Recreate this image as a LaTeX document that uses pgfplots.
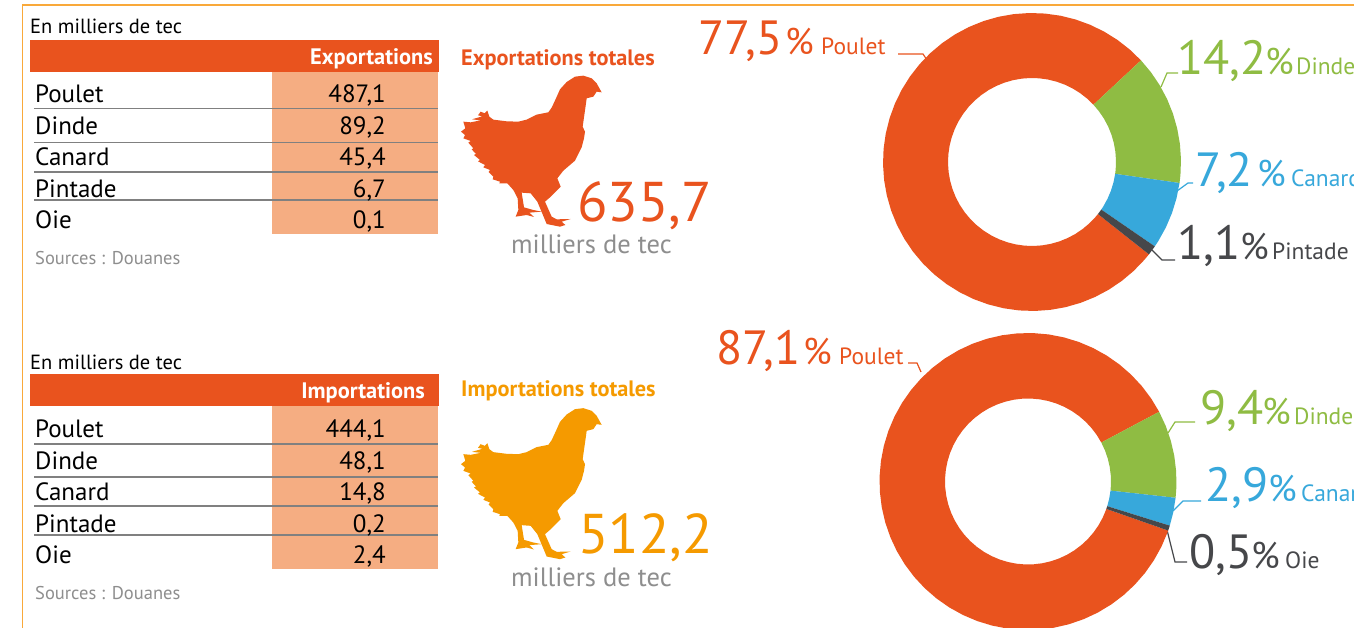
\documentclass[border=0pt]{standalone}
\usepackage{pgfplots}
\usepackage{pgfplotstable}
\usepackage{fontspec}
\setmainfont{PT Sans}
\pgfplotsset{compat=1.18}
\definecolor{cRed}{HTML}{E9531E}
\definecolor{cGreen}{HTML}{8FBC43}
\definecolor{cBlue}{HTML}{37A8DB}
\definecolor{cDark}{HTML}{46474A}
\definecolor{cSalmon}{HTML}{F5AD82}
\definecolor{cAmber}{HTML}{F59A00}
\definecolor{cFrame}{HTML}{F9A93A}
\definecolor{cGrayT}{HTML}{8E8E8E}
\definecolor{cRule}{HTML}{808080}
\pgfplotstableread{
x y
455 67
440 40
425 25
400 17
375 20
350 36
330 58
318 85
305 113
295 127
260 134
230 149
205 155
170 154
130 149
118 140
112 122
104 130
92 125
84 136
97 139
66 148
92 151
62 157
40 155
46 175
33 185
45 195
40 205
62 213
55 218
70 235
65 238
78 252
72 255
90 270
84 274
105 285
100 292
120 300
116 306
130 320
128 328
150 335
148 340
172 340
190 360
203 385
205 420
197 440
230 435
252 441
238 428
275 425
250 420
222 412
215 368
242 370
262 395
285 450
290 462
330 470
346 465
335 455
362 447
320 448
305 440
285 395
300 382
332 350
322 325
340 302
375 272
395 232
402 205
405 185
398 170
408 100
410 85
430 80
440 65
455 67
}\chicken
\newcommand{\fs}[1]{\fontsize{#1}{#1}\selectfont}
% text: anchor, x, baseline, colour, size, text
\newcommand{\Tx}[6]{\node[anchor=base #1,inner sep=0pt,text=#4,font=\fs{#5}] at (axis cs:#2,#3) {#6};}
% donut label: baseline, colour, x and text of number, x of percent sign, x and text of name
\newcommand{\Pct}[6]{\Tx{west}{#3}{#1}{#2}{48}{#4}\Tx{west}{#5}{#1}{#2}{37}{\%}\Tx{west}{#6}{#1}{#2}{23.5}}
\pgfplotsset{ring/.style={hide axis,scale only axis,width=298pt,height=298pt,xmin=-149,xmax=149,ymin=-149,ymax=149,clip=false,anchor=center},
 hen/.style={hide axis,scale only axis,width=160pt,height=160pt,xmin=0,xmax=480,ymin=0,ymax=480,y dir=reverse,anchor=north west,clip=false}}
\begin{document}
\begin{tikzpicture}
\useasboundingbox (0,0) rectangle (1354pt,628pt);
\clip (0,0) rectangle (1354pt,628pt);
\fill[white] (0,0) rectangle (1354pt,628pt);
\begin{axis}[at={(0,0)},anchor=south west,scale only axis,width=1354pt,height=628pt,xmin=0,xmax=1354,ymin=0,ymax=628,y dir=reverse,hide axis,clip=false]
% frame
\addplot[cFrame,line width=1.5pt] coordinates {(1354,5) (22.5,5) (22.5,628)};
% table 1
\addplot[fill=cRed,draw=none] coordinates {(30,40) (439,40) (439,72) (30,72)} -- cycle;
\addplot[fill=cSalmon,draw=none] coordinates {(272,72) (438,72) (438,234) (272,234)} -- cycle;
\addplot[cRule,line width=1.3pt] coordinates {(34,108.7) (438,108.7)};
\addplot[cRule,line width=1.3pt] coordinates {(34,142.7) (438,142.7)};
\addplot[cRule,line width=1.3pt] coordinates {(34,172) (438,172)};
\addplot[cRule,line width=1.3pt] coordinates {(34,200) (438,200)};
\Tx{west}{30}{33.5}{black}{20.5}{En milliers de tec}
\Tx{east}{433}{64.5}{white}{22.4}{\bfseries Exportations}
\Tx{west}{35}{102.7}{black}{25}{Poulet}
\Tx{west}{35}{134.7}{black}{25}{Dinde}
\Tx{west}{35}{165.7}{black}{25}{Canard}
\Tx{west}{35}{197.7}{black}{25}{Pintade}
\Tx{west}{35}{228.7}{black}{25}{Oie}
\Tx{east}{386}{102.7}{black}{25}{487,1}
\Tx{east}{386}{134.7}{black}{25}{89,2}
\Tx{east}{386}{165.7}{black}{25}{45,4}
\Tx{east}{386}{197.7}{black}{25}{6,7}
\Tx{east}{386}{228.7}{black}{25}{0,1}
\Tx{west}{35}{265}{cGrayT}{18.5}{Sources : Douanes}
% table 2
\addplot[fill=cRed,draw=none] coordinates {(30,374) (439,374) (439,406) (30,406)} -- cycle;
\addplot[fill=cSalmon,draw=none] coordinates {(272,406) (438,406) (438,569) (272,569)} -- cycle;
\addplot[cRule,line width=1.3pt] coordinates {(34,444) (438,444)};
\addplot[cRule,line width=1.3pt] coordinates {(34,477) (438,477)};
\addplot[cRule,line width=1.3pt] coordinates {(34,506) (438,506)};
\addplot[cRule,line width=1.3pt] coordinates {(34,535) (438,535)};
\Tx{west}{30}{369}{black}{20.5}{En milliers de tec}
\Tx{east}{425}{398}{white}{22.4}{\bfseries Importations}
\Tx{west}{35}{437.2}{black}{25}{Poulet}
\Tx{west}{35}{469.2}{black}{25}{Dinde}
\Tx{west}{35}{500.2}{black}{25}{Canard}
\Tx{west}{35}{532.2}{black}{25}{Pintade}
\Tx{west}{35}{563.2}{black}{25}{Oie}
\Tx{east}{386}{437.2}{black}{25}{444,1}
\Tx{east}{386}{469.2}{black}{25}{48,1}
\Tx{east}{386}{500.2}{black}{25}{14,8}
\Tx{east}{386}{532.2}{black}{25}{0,2}
\Tx{east}{386}{563.2}{black}{25}{2,4}
\Tx{west}{35}{599}{cGrayT}{18.5}{Sources : Douanes}
% totals
\Tx{west}{461}{65.5}{cRed}{22.3}{\bfseries Exportations totales}
\Tx{west}{577}{222}{cRed}{56}{635,7}
\Tx{west}{511}{254}{cGrayT}{26.5}{milliers de tec}
\Tx{west}{461}{396}{cAmber}{22.3}{\bfseries Importations totales}
\Tx{west}{578}{553}{cAmber}{56}{512,2}
\Tx{west}{511}{586}{cGrayT}{26.5}{milliers de tec}
% leaders
\addplot[cRed,line width=1.2pt] coordinates {(898,54) (923,54) (927,60)};
\addplot[cGreen,line width=1.2pt] coordinates {(1178,73) (1167,73) (1161,87)};
\addplot[cBlue,line width=1.2pt] coordinates {(1193,183) (1188,183) (1177,191)};
\addplot[cDark,line width=1.2pt] coordinates {(1175,260) (1162,260) (1152,250)};
\addplot[cRed,line width=1.2pt] coordinates {(908,363) (917,363) (921,372)};
\addplot[cGreen,line width=1.2pt] coordinates {(1195,422) (1175,422) (1168,433)};
\addplot[cBlue,line width=1.2pt] coordinates {(1201,501) (1183,501) (1173,511)};
\addplot[cDark,line width=1.2pt] coordinates {(1187,562) (1175,562) (1167,530)};
% donut labels
\Pct{55}{cRed}{698}{77,5}{785}{821}{Poulet}
\Pct{75}{cGreen}{1177}{14,2}{1265}{1296}{Dinde}
\Pct{187}{cBlue}{1195}{7,2}{1257}{1291}{Canard}
\Pct{260}{cDark}{1177}{1,1}{1240}{1272}{Pintade}
\Pct{364}{cRed}{716}{87,1}{803}{839}{Poulet}
\Pct{424}{cGreen}{1200}{9,4}{1262}{1294}{Dinde}
\Pct{501}{cBlue}{1205}{2,9}{1268}{1301}{Canard}
\Pct{568}{cDark}{1189}{0,5}{1251}{1285}{Oie}
\end{axis}
% hens
\begin{axis}[hen,at={(450pt,558pt)}]
\addplot[fill=cRed,draw=none] table[x=x,y=y] {\chicken};
\end{axis}
\begin{axis}[hen,at={(450pt,225.5pt)}]
\addplot[fill=cAmber,draw=none] table[x=x,y=y] {\chicken};
\end{axis}
% donut 1
\begin{axis}[ring,at={(1032pt,466pt)}]
\addplot[fill=cRed,draw=none,data cs=polar] coordinates {(43,149)(49,149)(55,149)(61,149)(67,149)(73,149)(79,149)(85,149)(91,149)(97,149)(103,149)(109,149)(115,149)(121,149)(127,149)(133,149)(139,149)(145,149)(151,149)(157,149)(163,149)(169,149)(175,149)(181,149)(187,149)(193,149)(199,149)(205,149)(211,149)(217,149)(223,149)(229,149)(235,149)(241,149)(247,149)(253,149)(259,149)(265,149)(271,149)(277,149)(283,149)(289,149)(295,149)(301,149)(307,149)(313,149)(319,149)(321.7,149)
(321.7,84)(319,84)(313,84)(307,84)(301,84)(295,84)(289,84)(283,84)(277,84)(271,84)(265,84)(259,84)(253,84)(247,84)(241,84)(235,84)(229,84)(223,84)(217,84)(211,84)(205,84)(199,84)(193,84)(187,84)(181,84)(175,84)(169,84)(163,84)(157,84)(151,84)(145,84)(139,84)(133,84)(127,84)(121,84)(115,84)(109,84)(103,84)(97,84)(91,84)(85,84)(79,84)(73,84)(67,84)(61,84)(55,84)(49,84)(43,84)} -- cycle;
\addplot[fill=cGreen,draw=none,data cs=polar] coordinates {(43,149)(37,149)(31,149)(25,149)(19,149)(13,149)(7,149)(1,149)(-5,149)(-8.1,149)(-8.1,84)(-5,84)(1,84)(7,84)(13,84)(19,84)(25,84)(31,84)(37,84)(43,84)} -- cycle;
\addplot[fill=cBlue,draw=none,data cs=polar] coordinates {(-8.1,149)(-14,149)(-20,149)(-26,149)(-32,149)(-34.5,149)(-34.5,84)(-32,84)(-26,84)(-20,84)(-14,84)(-8.1,84)} -- cycle;
\addplot[fill=cDark,draw=none,data cs=polar] coordinates {(-34.5,149)(-36.4,149)(-38.3,149)(-38.3,84)(-36.4,84)(-34.5,84)} -- cycle;
\end{axis}
% donut 2
\begin{axis}[ring,at={(1028pt,146.5pt)}]
\addplot[fill=cRed,draw=none,data cs=polar] coordinates {(28,148.5)(34,148.5)(40,148.5)(46,148.5)(52,148.5)(58,148.5)(64,148.5)(70,148.5)(76,148.5)(82,148.5)(88,148.5)(94,148.5)(100,148.5)(106,148.5)(112,148.5)(118,148.5)(124,148.5)(130,148.5)(136,148.5)(142,148.5)(148,148.5)(154,148.5)(160,148.5)(166,148.5)(172,148.5)(178,148.5)(184,148.5)(190,148.5)(196,148.5)(202,148.5)(208,148.5)(214,148.5)(220,148.5)(226,148.5)(232,148.5)(238,148.5)(244,148.5)(250,148.5)(256,148.5)(262,148.5)(268,148.5)(274,148.5)(280,148.5)(286,148.5)(292,148.5)(298,148.5)(304,148.5)(310,148.5)(316,148.5)(322,148.5)(328,148.5)(334,148.5)(340,148.5)(340.7,148.5)
(340.7,83)(340,83)(334,83)(328,83)(322,83)(316,83)(310,83)(304,83)(298,83)(292,83)(286,83)(280,83)(274,83)(268,83)(262,83)(256,83)(250,83)(244,83)(238,83)(232,83)(226,83)(220,83)(214,83)(208,83)(202,83)(196,83)(190,83)(184,83)(178,83)(172,83)(166,83)(160,83)(154,83)(148,83)(142,83)(136,83)(130,83)(124,83)(118,83)(112,83)(106,83)(100,83)(94,83)(88,83)(82,83)(76,83)(70,83)(64,83)(58,83)(52,83)(46,83)(40,83)(34,83)(28,83)} -- cycle;
\addplot[fill=cGreen,draw=none,data cs=polar] coordinates {(28,148.5)(22,148.5)(16,148.5)(10,148.5)(4,148.5)(-2,148.5)(-6.3,148.5)(-6.3,83)(-2,83)(4,83)(10,83)(16,83)(22,83)(28,83)} -- cycle;
\addplot[fill=cBlue,draw=none,data cs=polar] coordinates {(-6.3,148.5)(-12,148.5)(-17.3,148.5)(-17.3,83)(-12,83)(-6.3,83)} -- cycle;
\addplot[fill=cDark,draw=none,data cs=polar] coordinates {(-17.3,148.5)(-19.3,148.5)(-19.3,83)(-17.3,83)} -- cycle;
\end{axis}
\end{tikzpicture}
\end{document}
